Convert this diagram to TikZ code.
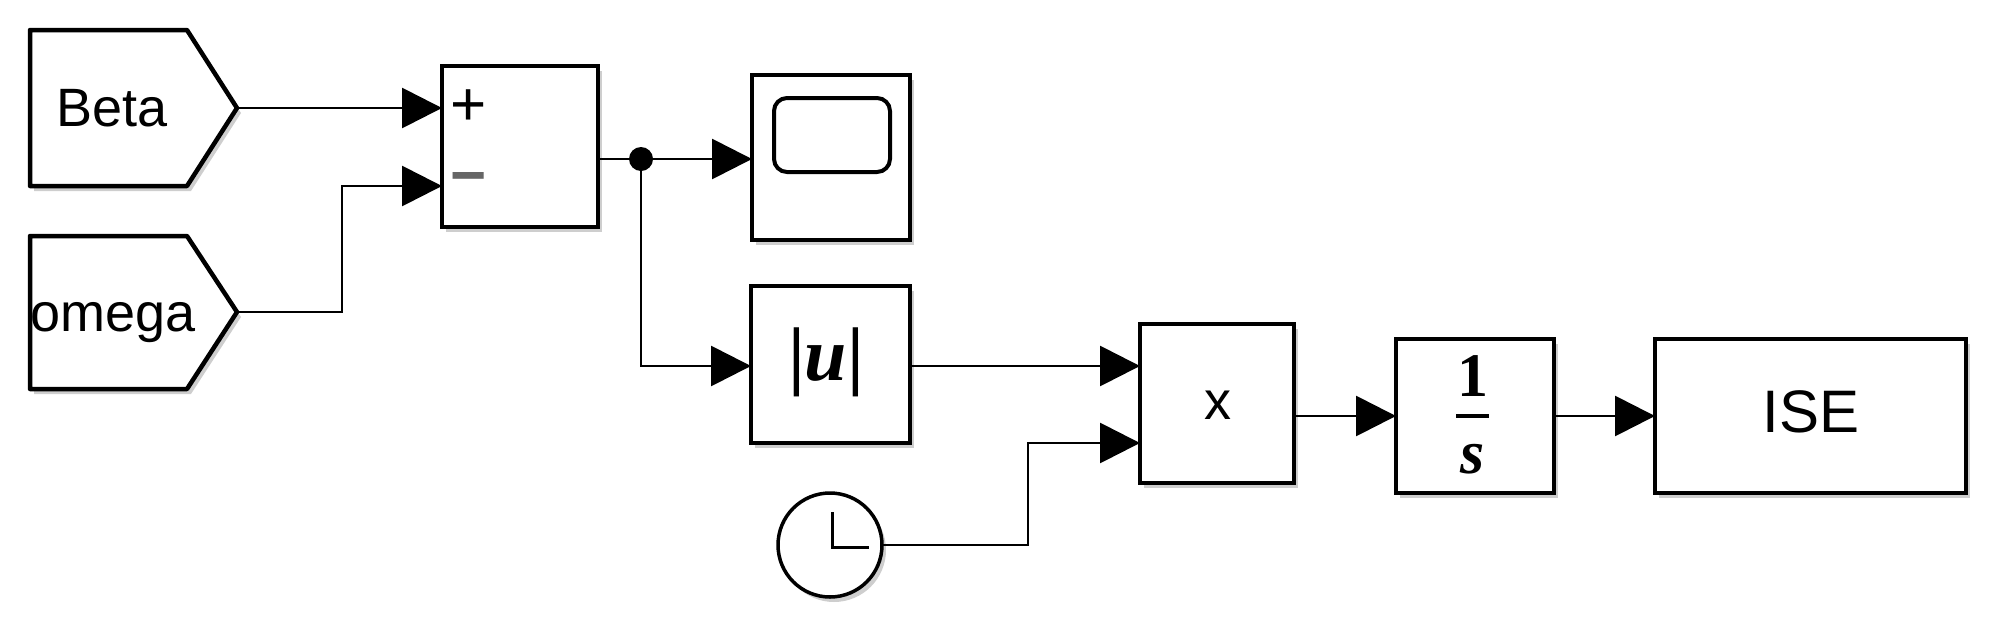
\documentclass[tikz,border=0pt]{standalone}
\usepackage{fontspec}
\setmainfont{Liberation Sans}
\newfontfamily\serifb{Liberation Serif}
\usetikzlibrary{arrows.meta,calc,shadows}
\begin{document}
\begin{tikzpicture}[x=1pt,y=-1pt,
  shd/.style={drop shadow={shadow xshift=4pt,shadow yshift=-5pt,fill=black!35,opacity=0.55}},
  blk/.style={draw, line width=4.5pt, fill=white, inner sep=0pt, outer sep=0pt, shd},
  pent/.style={draw, line width=4.5pt, fill=white, line join=round, shd},
  wire/.style={line width=2.8pt},
  conn/.style={line width=2.8pt, -{Triangle[length=40pt,width=40pt]}},
  lbl/.style={font=\fontsize{54}{60}\selectfont, inner sep=0pt},
]
\useasboundingbox (0,0) rectangle (2000,638);

% input tags
\draw[pent] (30,30) -- (187,30) -- (237,108) coordinate (betaTip) -- (187,186) -- (30,186) -- cycle;
\node[lbl, anchor=base west] (betaTxt) at (56,126) {Beta};
\draw[pent] (30,236) -- (187,236) -- (237,312) coordinate (omegaTip) -- (187,389) -- (30,389) -- cycle;
\node[lbl, anchor=base west] (omegaTxt) at (30,331) {omega};

% blocks
\node[blk, minimum width=156pt, minimum height=161pt] (sum) at (520,146.5) {};
\node[lbl, font=\fontsize{62}{66}\selectfont] (plus) at (469,108) {+};
\node[lbl, font=\fontsize{62}{66}\selectfont\bfseries, text=black!60] (minus) at (469,184) {\char"2212};

\node[blk, minimum width=158pt, minimum height=165pt] (scope) at (831,157.5) {};
\draw[line width=4pt, rounded corners=13pt] ($(scope.north west)+(22,23)$) rectangle ($(scope.north east)+(-20,97)$);

\node[blk, minimum width=159pt, minimum height=157pt] (abs) at (830.5,364.5) {};
\node[inner sep=0pt, font=\serifb\fontsize{76}{80}\selectfont\bfseries] (absTxt) at (826,362) {|\itshape u\upshape|};

\node[blk, minimum width=154pt, minimum height=159pt] (prod) at (1217,403.5) {};
\node[lbl, anchor=base] (prodTxt) at (1218,419) {x};

\node[blk, minimum width=158pt, minimum height=154pt] (int) at (1475,416) {};
\node[inner sep=0pt, anchor=base, font=\serifb\fontsize{62}{66}\selectfont\bfseries] (intOne) at (1473,396) {1};
\draw[line width=4pt] (1456,416) -- (1489,416);
\node[inner sep=0pt, anchor=base, font=\serifb\fontsize{62}{66}\selectfont\bfseries\itshape] (intS) at (1473,473) {s};

\node[blk, minimum width=311pt, minimum height=154pt] (ise) at (1810.5,416) {};
\node[lbl, anchor=base, font=\fontsize{60}{64}\selectfont] (iseTxt) at (1811,432) {ISE};

\node[circle, draw, line width=3.5pt, minimum size=104pt, inner sep=0pt, outer sep=0pt, fill=white, shd] (clock) at (830,545) {};
\draw[line width=3pt] ($(clock.center)+(2,-33)$) -- ($(clock.center)+(2,2)$) -- ($(clock.center)+(39,2)$);

% ports
\coordinate (sumIn1) at ($(sum.north west)+(0,42)$);
\coordinate (sumIn2) at ($(sum.north west)+(0,120)$);
\coordinate (sumOut) at ($(sum.north east)+(0,93)$);
\coordinate (absIn) at ($(abs.north west)+(0,80)$);
\coordinate (absOut) at ($(abs.north east)+(0,80)$);
\coordinate (prodIn1) at ($(prod.north west)+(0,42)$);
\coordinate (prodIn2) at ($(prod.north west)+(0,119)$);
\coordinate (prodOut) at ($(prod.north east)+(0,92)$);

\node[circle, fill, inner sep=0pt, minimum size=24pt] (junc) at (641,159) {};

% connectors
\draw[conn] (betaTip) -- (sumIn1);
\draw[conn] (omegaTip) -- ++(105,0) |- (sumIn2);
\draw[wire] (sumOut) -- (junc.center);
\draw[conn] (junc.center) -- (junc.center -| scope.west);
\draw[conn] (junc.center) |- (absIn);
\draw[conn] (absOut) -- (prodIn1);
\draw[conn] (clock.east) -- ++(146,0) |- (prodIn2);
\draw[conn] (prodOut) -- (prodOut -| int.west);
\draw[conn] (int.east) -- (ise.west);
\end{tikzpicture}
\end{document}
